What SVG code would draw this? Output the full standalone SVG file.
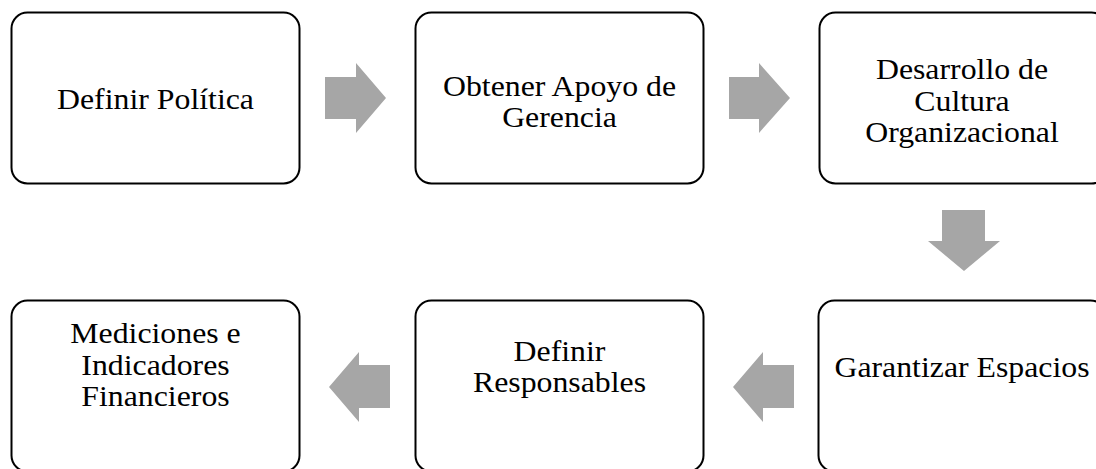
<svg xmlns="http://www.w3.org/2000/svg" width="1096" height="469" viewBox="0 0 1096 469">
<style>
.box{fill:#ffffff;stroke:#000000;stroke-width:2}
.arr{fill:#a6a6a6;stroke:none}
.lbl{font-family:"Liberation Serif","Times New Roman",serif;font-size:30px;fill:#000000;text-anchor:middle}
</style>
<rect width="1096" height="469" fill="#ffffff"/>
<g id="connectors">
<polygon class="arr" points="325,77 356,77 356,63 386,98 356,133 356,119 325,119"/>
<polygon class="arr" points="729,77 759,77 759,63 790,98 759,133 759,119 729,119"/>
<polygon class="arr" points="942,210 985,210 985,241 1000,241 964,271 928,241 942,241"/>
<polygon class="arr" points="794,365 763,365 763,352 733,387 763,422 763,408 794,408"/>
<polygon class="arr" points="390,365 359,365 359,352 329,387 359,422 359,408 390,408"/>
</g>
<g id="n1">
<rect class="box" x="11.5" y="12.5" width="288" height="171" rx="16"/>
<g transform="translate(155.5 0) scale(1.06 1)"><text class="lbl" x="0" y="109">Definir Política</text></g>
</g>
<g id="n2">
<rect class="box" x="415.5" y="12.5" width="288" height="171" rx="16"/>
<g transform="translate(559.5 0) scale(1.06 1)"><text class="lbl"><tspan x="0" y="96">Obtener Apoyo de</tspan><tspan x="0" y="127">Gerencia</tspan></text></g>
</g>
<g id="n3">
<rect class="box" x="819.5" y="12.5" width="288" height="171" rx="16"/>
<g transform="translate(962 0) scale(1.06 1)"><text class="lbl"><tspan x="0" y="79.5">Desarrollo de</tspan><tspan x="0" y="111">Cultura</tspan><tspan x="0" y="142">Organizacional</tspan></text></g>
</g>
<g id="n4">
<rect class="box" x="818.5" y="300.5" width="288" height="171" rx="16"/>
<g transform="translate(962 0) scale(1.06 1)"><text class="lbl" x="0" y="377">Garantizar Espacios</text></g>
</g>
<g id="n5">
<rect class="box" x="415.5" y="300.5" width="288" height="171" rx="16"/>
<g transform="translate(559.5 0) scale(1.06 1)"><text class="lbl"><tspan x="0" y="361">Definir</tspan><tspan x="0" y="392">Responsables</tspan></text></g>
</g>
<g id="n6">
<rect class="box" x="11.5" y="300.5" width="288" height="171" rx="16"/>
<g transform="translate(155.5 0) scale(1.06 1)"><text class="lbl"><tspan x="0" y="343.5">Mediciones e</tspan><tspan x="0" y="375">Indicadores</tspan><tspan x="0" y="406.5">Financieros</tspan></text></g>
</g>
</svg>
